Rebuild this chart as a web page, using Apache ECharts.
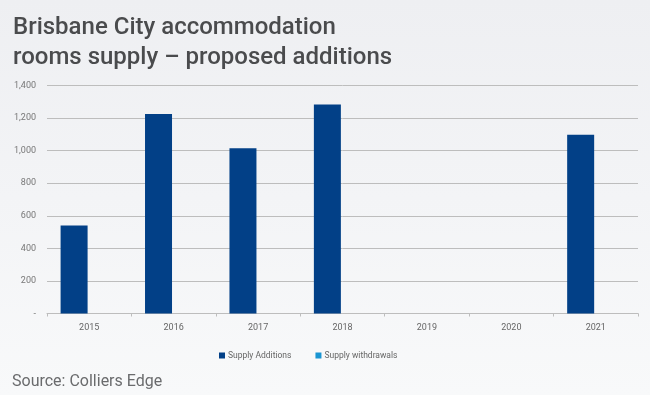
<!DOCTYPE html>
<html>
<head>
<meta charset="utf-8">
<script src="https://cdn.jsdelivr.net/npm/echarts@6/dist/echarts.min.js"></script>
<style>
html,body{margin:0;padding:0;background:#f1f2f4;}
#c{width:650px;height:395px;}
</style>
</head>
<body>
<div id="c"></div>
<script>
const categories = ['2015','2016','2017','2018','2019','2020','2021'];
const supplyAdditions = [540, 1225, 1015, 1283, 0, 0, 1098];
const supplyWithdrawals = [0, 0, 0, 0, 0, 0, 0];
const seriesNames = ['Supply Additions', 'Supply withdrawals'];
const yTickLabels = ['-', '200', '400', '600', '800', '1,000', '1,200', '1,400'];
const titleLines = ['Brisbane City accommodation', 'rooms supply \u2013 proposed additions'];
const sourceText = 'Source: Colliers Edge';

const chart = echarts.init(document.getElementById('c'));
chart.setOption({
  backgroundColor: {
    type: 'linear', x: 0, y: 0, x2: 0, y2: 1,
    colorStops: [{offset: 0, color: '#eeeff2'}, {offset: 1, color: '#f8f9fa'}]
  },
  animation: false,
  title: [{
    text: titleLines.join('\n'),
    left: 8, top: 8,
    textStyle: {fontFamily: 'Roboto', fontWeight: 500, fontSize: 24, color: '#4a4b4d', lineHeight: 30}
  }, {
    text: sourceText,
    left: 7, top: 369,
    textStyle: {fontFamily: 'Roboto', fontWeight: 400, fontSize: 16, color: '#6a6b6d'}
  }],
  legend: {
    data: seriesNames,
    left: 214, top: 346,
    itemWidth: 6, itemHeight: 6, itemGap: 24,
    icon: 'rect',
    textStyle: {fontFamily: 'Roboto', fontSize: 8.5, color: '#666', padding: [0, 0, 0, -2]}
  },
  grid: {left: 47, right: 12, top: 85.5, bottom: 81.5, containLabel: false},
  xAxis: {
    type: 'category',
    data: categories,
    axisLine: {lineStyle: {color: '#bdbdbd', width: 1}},
    axisTick: {show: true, length: 3, lineStyle: {color: '#bdbdbd'}},
    axisLabel: {fontFamily: 'Roboto', fontSize: 9, color: '#666', margin: 10}
  },
  yAxis: {
    type: 'value',
    min: 0, max: 1400, interval: 200,
    axisLine: {show: false},
    axisTick: {show: false},
    splitLine: {lineStyle: {color: '#bdbdbd', width: 1}},
    axisLabel: {
      fontFamily: 'Roboto', fontSize: 9, color: '#777', margin: 11,
      formatter: function (v) { return yTickLabels[Math.round(v / 200)]; }
    }
  },
  series: [{
    name: seriesNames[0], type: 'bar', data: supplyAdditions,
    barWidth: 27, barGap: '12%',
    itemStyle: {color: '#024087'}
  }, {
    name: seriesNames[1], type: 'bar', data: supplyWithdrawals,
    barWidth: 27,
    itemStyle: {color: '#1a95d2'}
  }]
});
</script>
</body>
</html>
